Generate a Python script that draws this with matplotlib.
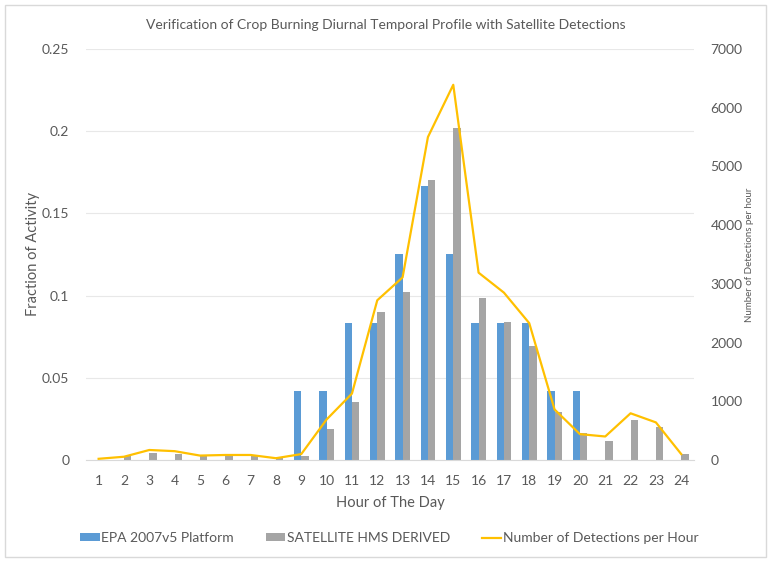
"""
Crop burning diurnal profile vs satellite detections.
"""

import numpy as np
import matplotlib.pyplot as plt
from matplotlib.patches import Rectangle
from matplotlib.ticker import FuncFormatter

hours = list(range(1, 25))
epa_fraction = [0, 0, 0, 0, 0, 0, 0, 0, 0.0417, 0.0417, 0.0833, 0.0833,
                0.125, 0.1667, 0.125, 0.0833, 0.0833, 0.0833, 0.0417, 0.0417,
                0, 0, 0, 0]
hms_fraction = [0, 0.0024, 0.0045, 0.0036, 0.0024, 0.0024, 0.0024, 0.0016,
                0.0024, 0.0187, 0.0355, 0.0902, 0.1024, 0.170, 0.2018, 0.0987,
                0.084, 0.0693, 0.0294, 0.0166, 0.0117, 0.0243, 0.0199, 0.0036]
detections = [20, 55, 170, 150, 75, 85, 85, 30, 100, 690, 1130, 2720, 3110,
              5500, 6390, 3190, 2850, 2330, 860, 440, 400, 795, 640, 100]

BLUE = '#5B9BD5'
GRAY = '#A5A5A5'
GOLD = '#FFC000'
TEXT = '#595959'
GRID = '#D9D9D9'

plt.rcParams['font.family'] = ['Lato', 'DejaVu Sans']

fig = plt.figure(figsize=(7.71, 5.63), dpi=100)
ax = fig.add_axes([0.1115, 0.183, 0.7885, 0.730])
ax2 = ax.twinx()

x = np.array(hours)
w = 0.29
ax.bar(x - w / 2, epa_fraction, w, color=BLUE, label='EPA 2007v5 Platform', zorder=2)
ax.bar(x + w / 2, hms_fraction, w, color=GRAY, label='SATELLITE HMS DERIVED', zorder=2)
ax2.plot(x, detections, color=GOLD, lw=1.6, label='Number of Detections per Hour')

ax.set_xlim(0.5, 24.5)
ax.set_ylim(0, 0.25)
ax2.set_ylim(0, 7000)
ax.set_xticks(hours)
ax.set_yticks([0, 0.05, 0.1, 0.15, 0.2, 0.25])
ax.yaxis.set_major_formatter(FuncFormatter(lambda v, p: '0' if v == 0 else f'{v:g}'))
ax2.set_yticks(range(0, 7001, 1000))

for a in (ax, ax2):
    for s in a.spines.values():
        s.set_visible(False)
    a.tick_params(length=0, colors=TEXT, labelsize=10)
ax.spines['bottom'].set_visible(True)
ax.spines['bottom'].set_color(GRID)
ax.grid(axis='y', color=GRID, lw=0.8, alpha=0.6, zorder=0)
ax.set_axisbelow(True)
ax.tick_params(axis='y', pad=12)
ax.tick_params(axis='x', pad=11)
ax2.tick_params(axis='y', pad=12)

ax.set_ylabel('Fraction of Activity', color=TEXT, fontsize=10.5, labelpad=1)
ax2.set_ylabel('Number of Detections per hour', color=TEXT, fontsize=7, labelpad=2)
ax.set_xlabel('Hour of The Day', color=TEXT, fontsize=10.5, labelpad=6)
fig.text(0.5, 0.955, 'Verification of Crop Burning Diurnal Temporal Profile with Satellite Detections',
         ha='center', va='center', color=TEXT, fontsize=10)

h1, l1 = ax.get_legend_handles_labels()
h2, l2 = ax2.get_legend_handles_labels()
fig.legend(h1 + h2, l1 + l2, loc='center', bbox_to_anchor=(0.505, 0.044), ncol=3,
           frameon=False, fontsize=10, labelcolor=TEXT, handlelength=1.4,
           handleheight=0.5, handletextpad=0.1, columnspacing=2.3)

fig.patches.append(Rectangle((0.006, 0.01), 0.988, 0.982, transform=fig.transFigure,
                             fill=False, edgecolor=GRID, lw=1))

fig.savefig('out.png', dpi=100)
